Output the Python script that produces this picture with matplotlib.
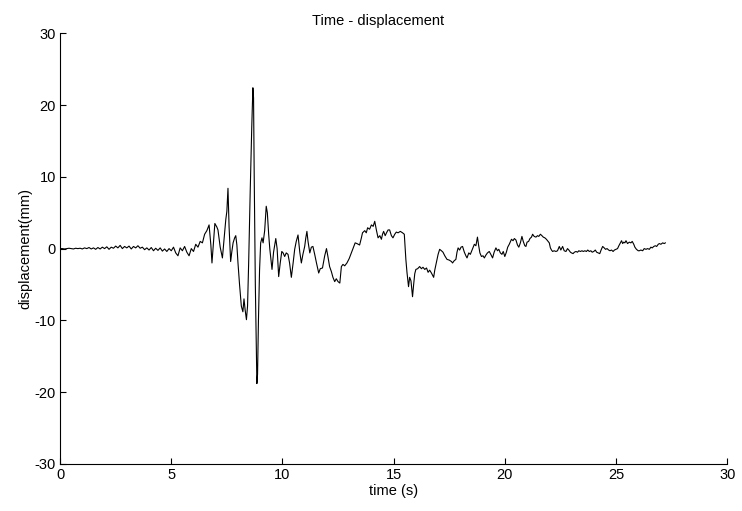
import matplotlib
matplotlib.use('Agg')
import matplotlib.pyplot as plt
import numpy as np

plt.rcParams['font.family'] = ['Liberation Sans', 'DejaVu Sans']
plt.rcParams['axes.unicode_minus'] = False

# time (s) and displacement (mm)
t_quiet = [round(0.1 * i, 1) for i in range(66)]
d_quiet = [0.0, 0.0, -0.05, 0.0, 0.05, 0.0, -0.05, 0.05, 0.0, 0.05,
           -0.05, 0.1, 0.0, 0.15, -0.05, 0.1, -0.1, 0.15, -0.05, 0.2,
           0.0, 0.25, -0.1, 0.2, 0.05, 0.35, 0.1, 0.45, 0.0, 0.3,
           0.1, 0.35, -0.05, 0.3, 0.1, 0.4, 0.05, 0.2, -0.15, 0.1,
           -0.2, 0.15, -0.3, 0.05, -0.25, 0.1, -0.35, -0.05, -0.4, 0.0,
           -0.3, 0.2, -0.6, -1.0, 0.1, -0.3, 0.3, -0.5, -1.0, 0.0,
           -0.4, 0.6, 0.2, 1.0, 0.8, 2.0]

t_event = [6.6, 6.7, 6.78, 6.83, 6.9, 6.96, 7.05, 7.1, 7.2, 7.3, 7.38, 7.45, 7.5, 7.55, 7.6,
           7.67, 7.72, 7.78, 7.85, 7.9, 7.95, 8.0, 8.07, 8.15, 8.22, 8.27, 8.32, 8.38, 8.43,
           8.48, 8.55, 8.62, 8.67, 8.7, 8.73, 8.78, 8.83, 8.85, 8.88, 8.92, 8.97, 9.02, 9.08,
           9.13, 9.2, 9.27, 9.32, 9.38, 9.43, 9.48, 9.53, 9.6, 9.7, 9.76, 9.83, 9.9, 9.97,
           10.03, 10.1, 10.17, 10.25, 10.32, 10.4, 10.48, 10.55, 10.62, 10.7, 10.78, 10.85,
           10.92, 11.0, 11.05, 11.1, 11.15, 11.23, 11.3, 11.37, 11.45, 11.53, 11.63, 11.7,
           11.8, 11.9, 11.98, 12.05, 12.12, 12.2, 12.27, 12.35, 12.42, 12.5, 12.58, 12.65,
           12.72, 12.8, 12.9, 13.0, 13.1, 13.2, 13.27, 13.35, 13.47, 13.55, 13.6, 13.7,
           13.77, 13.83, 13.92, 14.0, 14.08, 14.15, 14.23, 14.3, 14.38, 14.45, 14.5, 14.55,
           14.62, 14.68, 14.75, 14.82, 14.9, 14.97, 15.05, 15.12, 15.2, 15.3, 15.4, 15.48,
           15.55, 15.6, 15.67, 15.72, 15.78, 15.85, 15.9, 15.95, 16.0, 16.08, 16.17, 16.25,
           16.32, 16.4, 16.48, 16.55, 16.62, 16.7, 16.8, 16.85, 16.92, 17.0, 17.07, 17.15,
           17.22, 17.3, 17.4, 17.5, 17.6, 17.65, 17.72, 17.8, 17.85, 17.9, 17.97, 18.03,
           18.1, 18.18, 18.25, 18.3, 18.38, 18.45, 18.5, 18.58, 18.63, 18.7, 18.77, 18.82,
           18.88, 18.95, 19.02, 19.08, 19.15, 19.22, 19.3, 19.37, 19.45, 19.52, 19.6, 19.67,
           19.73, 19.8, 19.87, 19.93, 20.0, 20.07, 20.13, 20.2, 20.3, 20.37, 20.43, 20.5,
           20.57, 20.63, 20.7, 20.77, 20.83, 20.9, 20.95, 21.0, 21.07, 21.13, 21.2, 21.25,
           21.32, 21.4, 21.47, 21.53, 21.6, 21.67, 21.73, 21.8, 21.87, 21.95, 22.0, 22.05,
           22.1, 22.15, 22.22, 22.3, 22.37, 22.45, 22.52, 22.6, 22.67, 22.75, 22.82, 22.88,
           22.95, 23.0, 23.07, 23.13, 23.2, 23.27, 23.33, 23.4, 23.47, 23.53, 23.6, 23.67,
           23.73, 23.8, 23.87, 23.93, 24.0, 24.07, 24.13, 24.2, 24.27, 24.33, 24.4, 24.47,
           24.53, 24.6, 24.67, 24.73, 24.8, 24.87, 24.93, 25.0, 25.07, 25.13, 25.2, 25.25,
           25.3, 25.35, 25.4, 25.45, 25.52, 25.6, 25.67, 25.73, 25.8, 25.85, 25.92, 26.0,
           26.05, 26.12, 26.2, 26.27, 26.35, 26.42, 26.5, 26.57, 26.63, 26.7, 26.77, 26.83,
           26.9, 26.95, 27.02, 27.1, 27.17, 27.22]
d_event = [2.5, 3.3, 0.5, -2.0, 1.0, 3.5, 3.0, 2.6, 0.2, -1.3, 1.5, 4.0, 5.2, 8.4, 3.0,
           -1.8, -0.5, 0.8, 1.5, 1.8, 0.5, -2.0, -5.0, -8.0, -8.8, -7.0, -8.5, -9.9, -8.0,
           -2.0, 8.0, 17.0, 22.4, 21.0, 10.0, -5.0, -15.5, -18.8, -17.5, -10.0, -3.0, 0.8, 1.5,
           0.8, 2.5, 5.9, 5.0, 2.0, 0.0, -1.5, -2.9, -0.5, 1.4, 0.0, -3.9, -2.0, -0.4,
           -0.6, -1.1, -0.6, -0.8, -2.0, -4.0, -2.0, -0.1, 1.0, 1.9, -0.5, -2.0,
           -0.8, 0.3, 1.5, 2.4, 1.0, -0.6, 0.2, 0.3, -0.8, -2.0, -3.4, -2.8,
           -2.7, -1.0, 0.0, -1.2, -2.5, -3.2, -4.0, -4.6, -4.2, -4.6, -4.8, -2.5,
           -2.2, -2.4, -2.0, -1.4, -0.6, 0.2, 0.8, 0.7, 0.5, 1.5, 2.2, 2.5,
           2.2, 2.9, 2.7, 3.3, 3.1, 3.8, 2.5, 1.5, 1.8, 1.3, 2.0, 2.4,
           1.8, 2.2, 2.6, 2.6, 1.8, 1.5, 2.0, 2.3, 2.2, 2.4, 2.2, 2.0,
           -1.5, -3.3, -5.3, -4.0, -4.5, -6.7, -5.0, -3.5, -2.9, -2.8, -2.5, -2.8,
           -2.6, -2.9, -2.7, -3.3, -3.0, -3.4, -4.0, -3.0, -2.0, -0.8, -0.1, -0.3,
           -0.5, -1.0, -1.5, -1.6, -1.8, -2.0, -1.7, -1.5, -0.5, 0.1, -0.2, 0.2,
           0.3, -0.5, -1.0, -1.3, -0.6, -0.8, -0.4, 0.2, 0.6, 0.4, 1.6, 0.5,
           -0.6, -1.1, -1.0, -1.3, -0.9, -0.6, -0.4, -0.8, -1.3, -0.5, 0.1, -0.3,
           -0.1, -0.6, -0.8, -0.4, -1.1, -0.5, 0.2, 0.6, 1.3, 1.1, 1.4, 1.2,
           0.5, 0.2, 0.8, 1.7, 1.0, 0.4, 0.3, 0.9, 1.0, 1.4, 1.6, 2.0,
           1.7, 1.6, 1.8, 1.7, 2.0, 1.8, 1.6, 1.5, 1.3, 1.0, 0.8, 0.1,
           -0.2, -0.4, -0.3, -0.4, -0.3, 0.3, -0.2, 0.3, -0.3, -0.4, 0.0, -0.2,
           -0.5, -0.6, -0.7, -0.5, -0.4, -0.5, -0.3, -0.4, -0.3, -0.4, -0.3, -0.4,
           -0.2, -0.4, -0.3, -0.5, -0.4, -0.2, -0.5, -0.6, -0.7, -0.2, 0.3, 0.1,
           -0.1, 0.0, -0.2, -0.3, -0.2, -0.4, -0.2, -0.1, 0.0, 0.4, 0.8, 1.1,
           0.7, 0.9, 0.8, 1.1, 0.7, 0.9, 0.8, 1.0, 0.6, 0.2, -0.1, -0.3,
           -0.3, -0.2, -0.3, 0.0, -0.1, 0.0, -0.1, 0.2, 0.1, 0.3, 0.4, 0.3,
           0.6, 0.7, 0.6, 0.8, 0.7, 0.8]

time = np.array(t_quiet + t_event)
disp = np.array(d_quiet + d_event)

x_ticks = [0, 5, 10, 15, 20, 25, 30]
y_ticks = [-30, -20, -10, 0, 10, 20, 30]

fig = plt.figure(figsize=(7.42, 5.11), dpi=100)
ax = fig.add_axes([0.081, 0.092, 0.899, 0.843])
ax.plot(time, disp, color='k', lw=0.8)

ax.set_xlim(0, 30)
ax.set_ylim(-30, 30)
ax.set_xticks(x_ticks)
ax.set_yticks(y_ticks)
ax.spines['top'].set_visible(False)
ax.spines['right'].set_visible(False)
ax.tick_params(direction='in', length=4, labelsize=10.5, pad=3)

# title sits a little left of centre in the reference
ax.set_title('Time - displacement', fontsize=10.5, pad=6, x=0.477)
ax.set_xlabel('time (s)', fontsize=10.5, labelpad=1)
ax.set_ylabel('displacement(mm)', fontsize=10.5, labelpad=2)

fig.savefig('out.png', dpi=100)
